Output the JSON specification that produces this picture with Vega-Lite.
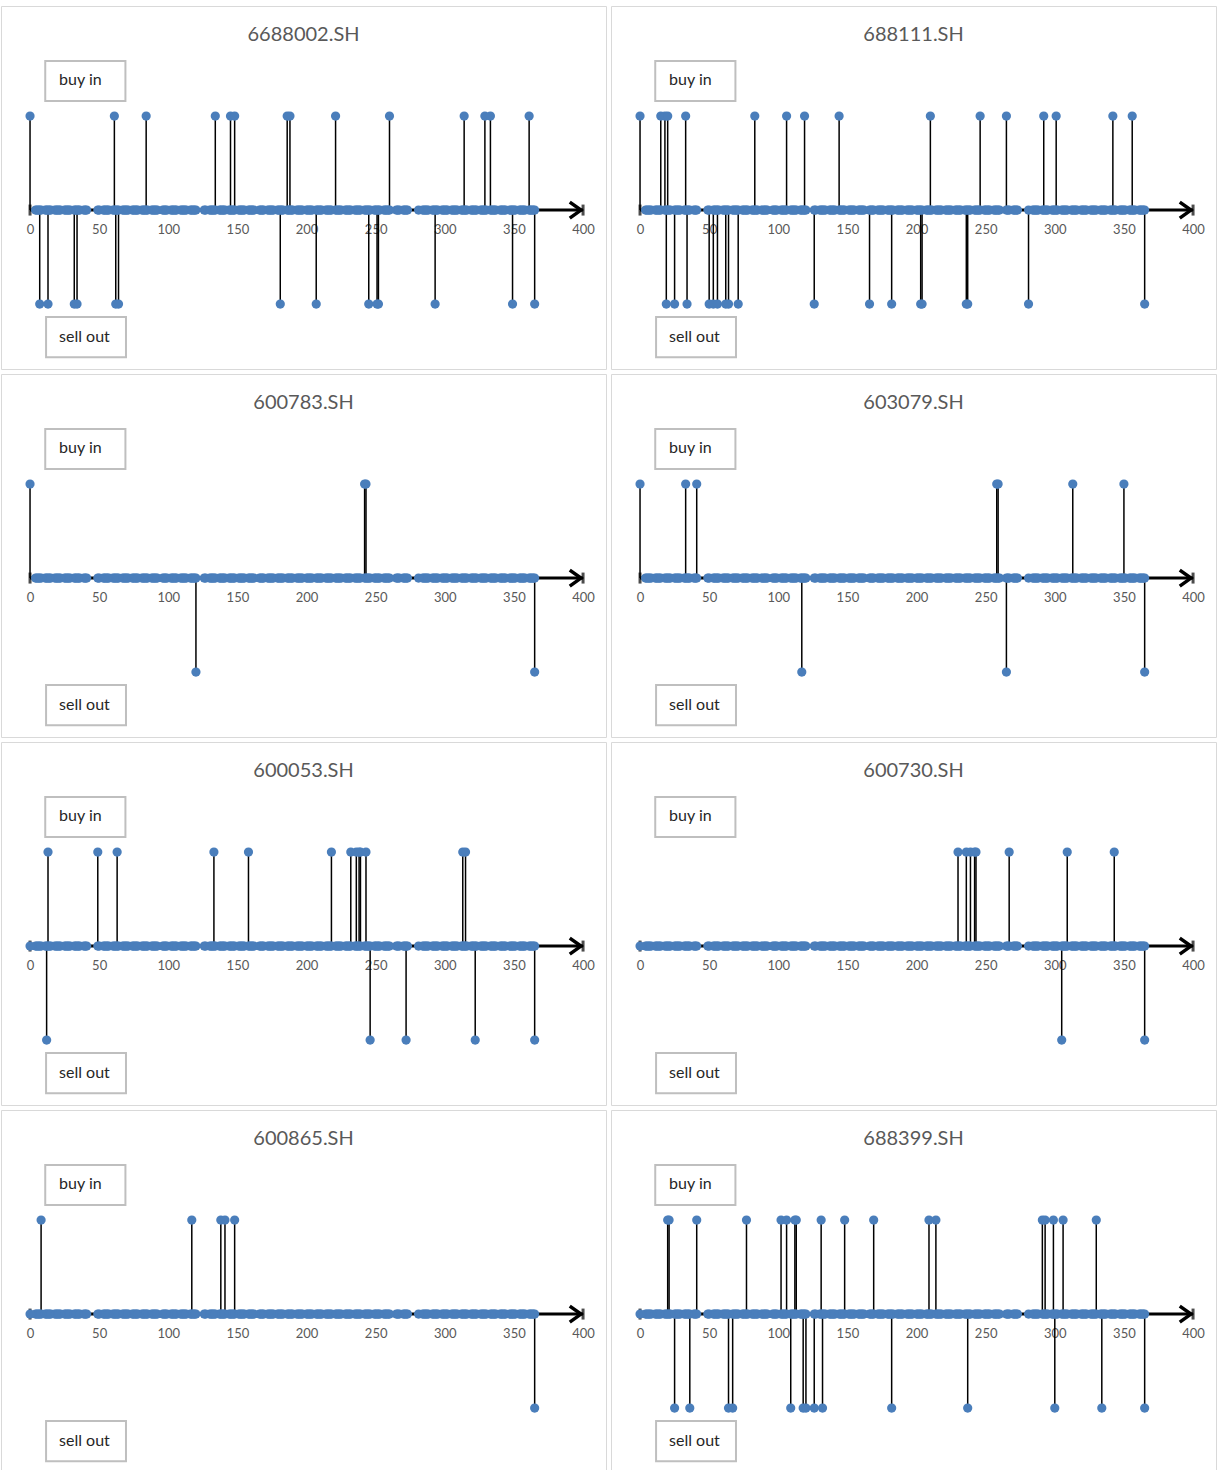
{
"$schema": "https://vega.github.io/schema/vega-lite/v6.json",
"padding": {"left": 0, "top": 5, "right": 0, "bottom": 0},
"background": "white",
"columns": 2,
"spacing": {"row": 3, "column": 3},
"datasets": {
"days": [{"day":4},{"day":5},{"day":6},{"day":7},{"day":8},{"day":11},{"day":12},{"day":13},{"day":14},{"day":15},{"day":18},{"day":19},{"day":20},{"day":21},{"day":22},{"day":25},{"day":26},{"day":27},{"day":28},{"day":29},
{"day":32},{"day":33},{"day":34},{"day":35},{"day":36},{"day":39},{"day":40},{"day":41},{"day":49},{"day":50},{"day":53},{"day":54},{"day":55},{"day":56},{"day":57},
{"day":60},{"day":61},{"day":62},{"day":63},{"day":64},{"day":67},{"day":68},{"day":69},{"day":70},{"day":71},{"day":74},{"day":75},{"day":76},{"day":77},{"day":78},{"day":81},{"day":82},{"day":83},{"day":84},{"day":85},{"day":88},{"day":89},{"day":90},
{"day":91},{"day":92},{"day":96},{"day":97},{"day":98},{"day":99},{"day":102},{"day":103},{"day":104},{"day":105},{"day":106},{"day":109},{"day":110},{"day":111},{"day":112},{"day":113},{"day":116},{"day":117},{"day":118},{"day":119},{"day":120},
{"day":126},{"day":127},{"day":130},{"day":131},{"day":132},{"day":133},{"day":134},{"day":137},{"day":138},{"day":139},{"day":140},{"day":141},{"day":144},{"day":145},{"day":146},{"day":147},{"day":148},{"day":151},
{"day":152},{"day":153},{"day":154},{"day":155},{"day":158},{"day":159},{"day":160},{"day":161},{"day":162},{"day":166},{"day":167},{"day":168},{"day":169},{"day":172},{"day":173},{"day":174},{"day":175},{"day":176},{"day":179},{"day":180},{"day":181},
{"day":182},{"day":183},{"day":186},{"day":187},{"day":188},{"day":189},{"day":190},{"day":193},{"day":194},{"day":195},{"day":196},{"day":197},{"day":200},{"day":201},{"day":202},{"day":203},{"day":204},{"day":207},{"day":208},{"day":209},{"day":210},{"day":211},
{"day":214},{"day":215},{"day":216},{"day":217},{"day":218},{"day":221},{"day":222},{"day":223},{"day":224},{"day":225},{"day":228},{"day":229},{"day":230},{"day":231},{"day":232},{"day":235},{"day":236},{"day":237},{"day":238},{"day":239},{"day":242},{"day":243},
{"day":244},{"day":245},{"day":246},{"day":249},{"day":250},{"day":251},{"day":252},{"day":253},{"day":256},{"day":257},{"day":258},{"day":259},{"day":260},{"day":265},{"day":266},{"day":267},{"day":270},{"day":271},{"day":272},{"day":273},
{"day":281},{"day":284},{"day":285},{"day":286},{"day":287},{"day":288},{"day":291},{"day":292},{"day":293},{"day":294},{"day":295},{"day":298},{"day":299},{"day":300},{"day":301},{"day":302},
{"day":305},{"day":306},{"day":307},{"day":308},{"day":309},{"day":312},{"day":313},{"day":314},{"day":315},{"day":316},{"day":319},{"day":320},{"day":321},{"day":322},{"day":323},{"day":326},{"day":327},{"day":328},{"day":329},{"day":330},{"day":333},{"day":334},
{"day":335},{"day":336},{"day":337},{"day":340},{"day":341},{"day":342},{"day":343},{"day":344},{"day":347},{"day":348},{"day":349},{"day":350},{"day":351},{"day":354},{"day":355},{"day":356},{"day":357},{"day":358},{"day":361},{"day":362},{"day":363},{"day":364},{"day":365}],
"trades": [
{"code":"6688002.SH","day":0,"signal":1},{"code":"6688002.SH","day":61,"signal":1},{"code":"6688002.SH","day":84,"signal":1},{"code":"6688002.SH","day":134,"signal":1},{"code":"6688002.SH","day":145,"signal":1},{"code":"6688002.SH","day":148,"signal":1},{"code":"6688002.SH","day":186,"signal":1},{"code":"6688002.SH","day":188,"signal":1},{"code":"6688002.SH","day":221,"signal":1},{"code":"6688002.SH","day":260,"signal":1},{"code":"6688002.SH","day":314,"signal":1},{"code":"6688002.SH","day":329,"signal":1},{"code":"6688002.SH","day":333,"signal":1},{"code":"6688002.SH","day":361,"signal":1},
{"code":"6688002.SH","day":7,"signal":-1},{"code":"6688002.SH","day":13,"signal":-1},{"code":"6688002.SH","day":32,"signal":-1},{"code":"6688002.SH","day":34,"signal":-1},{"code":"6688002.SH","day":62,"signal":-1},{"code":"6688002.SH","day":64,"signal":-1},{"code":"6688002.SH","day":181,"signal":-1},{"code":"6688002.SH","day":207,"signal":-1},{"code":"6688002.SH","day":245,"signal":-1},{"code":"6688002.SH","day":251,"signal":-1},{"code":"6688002.SH","day":252,"signal":-1},{"code":"6688002.SH","day":293,"signal":-1},{"code":"6688002.SH","day":349,"signal":-1},{"code":"6688002.SH","day":365,"signal":-1},
{"code":"688111.SH","day":0,"signal":1},{"code":"688111.SH","day":15,"signal":1},{"code":"688111.SH","day":18,"signal":1},{"code":"688111.SH","day":20,"signal":1},{"code":"688111.SH","day":33,"signal":1},{"code":"688111.SH","day":83,"signal":1},{"code":"688111.SH","day":106,"signal":1},{"code":"688111.SH","day":119,"signal":1},{"code":"688111.SH","day":144,"signal":1},{"code":"688111.SH","day":210,"signal":1},{"code":"688111.SH","day":246,"signal":1},{"code":"688111.SH","day":265,"signal":1},{"code":"688111.SH","day":292,"signal":1},{"code":"688111.SH","day":301,"signal":1},{"code":"688111.SH","day":342,"signal":1},{"code":"688111.SH","day":356,"signal":1},
{"code":"688111.SH","day":19,"signal":-1},{"code":"688111.SH","day":25,"signal":-1},{"code":"688111.SH","day":34,"signal":-1},{"code":"688111.SH","day":50,"signal":-1},{"code":"688111.SH","day":53,"signal":-1},{"code":"688111.SH","day":56,"signal":-1},{"code":"688111.SH","day":62,"signal":-1},{"code":"688111.SH","day":64,"signal":-1},{"code":"688111.SH","day":71,"signal":-1},{"code":"688111.SH","day":126,"signal":-1},{"code":"688111.SH","day":166,"signal":-1},{"code":"688111.SH","day":182,"signal":-1},{"code":"688111.SH","day":203,"signal":-1},{"code":"688111.SH","day":204,"signal":-1},{"code":"688111.SH","day":236,"signal":-1},{"code":"688111.SH","day":237,"signal":-1},{"code":"688111.SH","day":281,"signal":-1},{"code":"688111.SH","day":365,"signal":-1},
{"code":"600783.SH","day":0,"signal":1},{"code":"600783.SH","day":242,"signal":1},{"code":"600783.SH","day":243,"signal":1},{"code":"600783.SH","day":120,"signal":-1},{"code":"600783.SH","day":365,"signal":-1},
{"code":"603079.SH","day":0,"signal":1},{"code":"603079.SH","day":33,"signal":1},{"code":"603079.SH","day":41,"signal":1},{"code":"603079.SH","day":258,"signal":1},{"code":"603079.SH","day":259,"signal":1},{"code":"603079.SH","day":313,"signal":1},{"code":"603079.SH","day":350,"signal":1},{"code":"603079.SH","day":117,"signal":-1},{"code":"603079.SH","day":265,"signal":-1},{"code":"603079.SH","day":365,"signal":-1},
{"code":"600053.SH","day":0,"signal":0},{"code":"600053.SH","day":13,"signal":1},{"code":"600053.SH","day":49,"signal":1},{"code":"600053.SH","day":63,"signal":1},{"code":"600053.SH","day":133,"signal":1},{"code":"600053.SH","day":158,"signal":1},{"code":"600053.SH","day":218,"signal":1},{"code":"600053.SH","day":232,"signal":1},{"code":"600053.SH","day":236,"signal":1},{"code":"600053.SH","day":238,"signal":1},{"code":"600053.SH","day":239,"signal":1},{"code":"600053.SH","day":243,"signal":1},{"code":"600053.SH","day":313,"signal":1},{"code":"600053.SH","day":315,"signal":1},
{"code":"600053.SH","day":12,"signal":-1},{"code":"600053.SH","day":246,"signal":-1},{"code":"600053.SH","day":272,"signal":-1},{"code":"600053.SH","day":322,"signal":-1},{"code":"600053.SH","day":365,"signal":-1},
{"code":"600730.SH","day":0,"signal":0},{"code":"600730.SH","day":230,"signal":1},{"code":"600730.SH","day":236,"signal":1},{"code":"600730.SH","day":239,"signal":1},{"code":"600730.SH","day":242,"signal":1},{"code":"600730.SH","day":243,"signal":1},{"code":"600730.SH","day":267,"signal":1},{"code":"600730.SH","day":309,"signal":1},{"code":"600730.SH","day":343,"signal":1},{"code":"600730.SH","day":305,"signal":-1},{"code":"600730.SH","day":365,"signal":-1},
{"code":"600865.SH","day":0,"signal":0},{"code":"600865.SH","day":8,"signal":1},{"code":"600865.SH","day":117,"signal":1},{"code":"600865.SH","day":138,"signal":1},{"code":"600865.SH","day":141,"signal":1},{"code":"600865.SH","day":148,"signal":1},{"code":"600865.SH","day":365,"signal":-1},
{"code":"688399.SH","day":0,"signal":0},{"code":"688399.SH","day":20,"signal":1},{"code":"688399.SH","day":21,"signal":1},{"code":"688399.SH","day":41,"signal":1},{"code":"688399.SH","day":77,"signal":1},{"code":"688399.SH","day":102,"signal":1},{"code":"688399.SH","day":106,"signal":1},{"code":"688399.SH","day":112,"signal":1},{"code":"688399.SH","day":113,"signal":1},{"code":"688399.SH","day":131,"signal":1},{"code":"688399.SH","day":148,"signal":1},{"code":"688399.SH","day":169,"signal":1},{"code":"688399.SH","day":209,"signal":1},{"code":"688399.SH","day":214,"signal":1},{"code":"688399.SH","day":291,"signal":1},{"code":"688399.SH","day":293,"signal":1},{"code":"688399.SH","day":299,"signal":1},{"code":"688399.SH","day":306,"signal":1},{"code":"688399.SH","day":330,"signal":1},
{"code":"688399.SH","day":25,"signal":-1},{"code":"688399.SH","day":36,"signal":-1},{"code":"688399.SH","day":64,"signal":-1},{"code":"688399.SH","day":67,"signal":-1},{"code":"688399.SH","day":109,"signal":-1},{"code":"688399.SH","day":118,"signal":-1},{"code":"688399.SH","day":120,"signal":-1},{"code":"688399.SH","day":126,"signal":-1},{"code":"688399.SH","day":132,"signal":-1},{"code":"688399.SH","day":182,"signal":-1},{"code":"688399.SH","day":237,"signal":-1},{"code":"688399.SH","day":300,"signal":-1},{"code":"688399.SH","day":334,"signal":-1},{"code":"688399.SH","day":365,"signal":-1}
]
},
"concat": [
{"width":605,"height":363,"title":{"text":"6688002.SH"},"layer":[
{"data":{"values":[{}]},"mark":{"type":"rect","fill":"white","stroke":"#bfbfbf","strokeWidth":2},"encoding":{"x":{"datum":11,"type":"quantitative"},"x2":{"datum":69},"y":{"datum":1.16,"type":"quantitative"},"y2":{"datum":1.585}}},
{"data":{"values":[{}]},"mark":{"type":"text","text":"buy in","align":"left","fontSize":16,"font":"Lato","color":"#262626"},"encoding":{"x":{"datum":21,"type":"quantitative"},"y":{"datum":1.38,"type":"quantitative"}}},
{"data":{"values":[{}]},"mark":{"type":"rect","fill":"white","stroke":"#bfbfbf","strokeWidth":2},"encoding":{"x":{"datum":11.6,"type":"quantitative"},"x2":{"datum":69.4},"y":{"datum":-1.138,"type":"quantitative"},"y2":{"datum":-1.564}}},
{"data":{"values":[{}]},"mark":{"type":"text","text":"sell out","align":"left","fontSize":16,"font":"Lato","color":"#262626"},"encoding":{"x":{"datum":21,"type":"quantitative"},"y":{"datum":-1.35,"type":"quantitative"}}},
{"data":{"values":[{}]},"mark":{"type":"rule","color":"black","strokeWidth":3},"encoding":{"x":{"datum":0,"type":"quantitative"},"x2":{"datum":400},"y":{"datum":0,"type":"quantitative"}}},
{"data":{"values":[{}]},"mark":{"type":"tick","orient":"vertical","color":"black","size":11,"thickness":3},"encoding":{"x":{"datum":0,"type":"quantitative"},"y":{"datum":0,"type":"quantitative"}}},
{"data":{"values":[{}]},"mark":{"type":"tick","orient":"vertical","color":"black","size":11,"thickness":3},"encoding":{"x":{"datum":400,"type":"quantitative"},"y":{"datum":0,"type":"quantitative"}}},
{"data":{"values":[{}]},"mark":{"type":"point","shape":"M-1.4,-1L0,0L-1.4,1","filled":false,"stroke":"black","strokeWidth":3.5,"size":256,"opacity":1},"encoding":{"x":{"datum":398.5,"type":"quantitative"},"y":{"datum":0,"type":"quantitative"}}},
{"data":{"name":"trades"},"transform":[{"filter":"datum.code == '6688002.SH'"}],"mark":{"type":"rule","color":"black","strokeWidth":1.5},"encoding":{"x":{"field":"day","type":"quantitative"},"y":{"field":"signal","type":"quantitative"},"y2":{"datum":0}}},
{"data":{"name":"days"},"mark":{"type":"point","filled":true,"size":85,"color":"#4A7EBB","opacity":1},"encoding":{"x":{"field":"day","type":"quantitative","scale":{"domain":[-21,416.6],"nice":false,"zero":false},"axis":{"title":null,"values":[0,50,100,150,200,250,300,350,400],"domain":false,"ticks":false,"tickSize":0,"grid":false,"labelFont":"Lato","labelFontSize":13,"labelColor":"#595959","labelPadding":13,"labelFlush":false,"offset":-159}},"y":{"datum":0,"type":"quantitative","scale":{"domain":[-1.69,2.17],"nice":false,"zero":false}}}},
{"data":{"name":"trades"},"transform":[{"filter":"datum.code == '6688002.SH'"}],"mark":{"type":"point","filled":true,"size":85,"color":"#4A7EBB","opacity":1},"encoding":{"x":{"field":"day","type":"quantitative"},"y":{"field":"signal","type":"quantitative"}}}
]},
{"width":605,"height":363,"title":{"text":"688111.SH"},"layer":[
{"data":{"values":[{}]},"mark":{"type":"rect","fill":"white","stroke":"#bfbfbf","strokeWidth":2},"encoding":{"x":{"datum":11,"type":"quantitative"},"x2":{"datum":69},"y":{"datum":1.16,"type":"quantitative"},"y2":{"datum":1.585}}},
{"data":{"values":[{}]},"mark":{"type":"text","text":"buy in","align":"left","fontSize":16,"font":"Lato","color":"#262626"},"encoding":{"x":{"datum":21,"type":"quantitative"},"y":{"datum":1.38,"type":"quantitative"}}},
{"data":{"values":[{}]},"mark":{"type":"rect","fill":"white","stroke":"#bfbfbf","strokeWidth":2},"encoding":{"x":{"datum":11.6,"type":"quantitative"},"x2":{"datum":69.4},"y":{"datum":-1.138,"type":"quantitative"},"y2":{"datum":-1.564}}},
{"data":{"values":[{}]},"mark":{"type":"text","text":"sell out","align":"left","fontSize":16,"font":"Lato","color":"#262626"},"encoding":{"x":{"datum":21,"type":"quantitative"},"y":{"datum":-1.35,"type":"quantitative"}}},
{"data":{"values":[{}]},"mark":{"type":"rule","color":"black","strokeWidth":3},"encoding":{"x":{"datum":0,"type":"quantitative"},"x2":{"datum":400},"y":{"datum":0,"type":"quantitative"}}},
{"data":{"values":[{}]},"mark":{"type":"tick","orient":"vertical","color":"black","size":11,"thickness":3},"encoding":{"x":{"datum":0,"type":"quantitative"},"y":{"datum":0,"type":"quantitative"}}},
{"data":{"values":[{}]},"mark":{"type":"tick","orient":"vertical","color":"black","size":11,"thickness":3},"encoding":{"x":{"datum":400,"type":"quantitative"},"y":{"datum":0,"type":"quantitative"}}},
{"data":{"values":[{}]},"mark":{"type":"point","shape":"M-1.4,-1L0,0L-1.4,1","filled":false,"stroke":"black","strokeWidth":3.5,"size":256,"opacity":1},"encoding":{"x":{"datum":398.5,"type":"quantitative"},"y":{"datum":0,"type":"quantitative"}}},
{"data":{"name":"trades"},"transform":[{"filter":"datum.code == '688111.SH'"}],"mark":{"type":"rule","color":"black","strokeWidth":1.5},"encoding":{"x":{"field":"day","type":"quantitative"},"y":{"field":"signal","type":"quantitative"},"y2":{"datum":0}}},
{"data":{"name":"days"},"mark":{"type":"point","filled":true,"size":85,"color":"#4A7EBB","opacity":1},"encoding":{"x":{"field":"day","type":"quantitative","scale":{"domain":[-21,416.6],"nice":false,"zero":false},"axis":{"title":null,"values":[0,50,100,150,200,250,300,350,400],"domain":false,"ticks":false,"tickSize":0,"grid":false,"labelFont":"Lato","labelFontSize":13,"labelColor":"#595959","labelPadding":13,"labelFlush":false,"offset":-159}},"y":{"datum":0,"type":"quantitative","scale":{"domain":[-1.69,2.17],"nice":false,"zero":false}}}},
{"data":{"name":"trades"},"transform":[{"filter":"datum.code == '688111.SH'"}],"mark":{"type":"point","filled":true,"size":85,"color":"#4A7EBB","opacity":1},"encoding":{"x":{"field":"day","type":"quantitative"},"y":{"field":"signal","type":"quantitative"}}}
]},
{"width":605,"height":363,"title":{"text":"600783.SH"},"layer":[
{"data":{"values":[{}]},"mark":{"type":"rect","fill":"white","stroke":"#bfbfbf","strokeWidth":2},"encoding":{"x":{"datum":11,"type":"quantitative"},"x2":{"datum":69},"y":{"datum":1.16,"type":"quantitative"},"y2":{"datum":1.585}}},
{"data":{"values":[{}]},"mark":{"type":"text","text":"buy in","align":"left","fontSize":16,"font":"Lato","color":"#262626"},"encoding":{"x":{"datum":21,"type":"quantitative"},"y":{"datum":1.38,"type":"quantitative"}}},
{"data":{"values":[{}]},"mark":{"type":"rect","fill":"white","stroke":"#bfbfbf","strokeWidth":2},"encoding":{"x":{"datum":11.6,"type":"quantitative"},"x2":{"datum":69.4},"y":{"datum":-1.138,"type":"quantitative"},"y2":{"datum":-1.564}}},
{"data":{"values":[{}]},"mark":{"type":"text","text":"sell out","align":"left","fontSize":16,"font":"Lato","color":"#262626"},"encoding":{"x":{"datum":21,"type":"quantitative"},"y":{"datum":-1.35,"type":"quantitative"}}},
{"data":{"values":[{}]},"mark":{"type":"rule","color":"black","strokeWidth":3},"encoding":{"x":{"datum":0,"type":"quantitative"},"x2":{"datum":400},"y":{"datum":0,"type":"quantitative"}}},
{"data":{"values":[{}]},"mark":{"type":"tick","orient":"vertical","color":"black","size":11,"thickness":3},"encoding":{"x":{"datum":0,"type":"quantitative"},"y":{"datum":0,"type":"quantitative"}}},
{"data":{"values":[{}]},"mark":{"type":"tick","orient":"vertical","color":"black","size":11,"thickness":3},"encoding":{"x":{"datum":400,"type":"quantitative"},"y":{"datum":0,"type":"quantitative"}}},
{"data":{"values":[{}]},"mark":{"type":"point","shape":"M-1.4,-1L0,0L-1.4,1","filled":false,"stroke":"black","strokeWidth":3.5,"size":256,"opacity":1},"encoding":{"x":{"datum":398.5,"type":"quantitative"},"y":{"datum":0,"type":"quantitative"}}},
{"data":{"name":"trades"},"transform":[{"filter":"datum.code == '600783.SH'"}],"mark":{"type":"rule","color":"black","strokeWidth":1.5},"encoding":{"x":{"field":"day","type":"quantitative"},"y":{"field":"signal","type":"quantitative"},"y2":{"datum":0}}},
{"data":{"name":"days"},"mark":{"type":"point","filled":true,"size":85,"color":"#4A7EBB","opacity":1},"encoding":{"x":{"field":"day","type":"quantitative","scale":{"domain":[-21,416.6],"nice":false,"zero":false},"axis":{"title":null,"values":[0,50,100,150,200,250,300,350,400],"domain":false,"ticks":false,"tickSize":0,"grid":false,"labelFont":"Lato","labelFontSize":13,"labelColor":"#595959","labelPadding":13,"labelFlush":false,"offset":-159}},"y":{"datum":0,"type":"quantitative","scale":{"domain":[-1.69,2.17],"nice":false,"zero":false}}}},
{"data":{"name":"trades"},"transform":[{"filter":"datum.code == '600783.SH'"}],"mark":{"type":"point","filled":true,"size":85,"color":"#4A7EBB","opacity":1},"encoding":{"x":{"field":"day","type":"quantitative"},"y":{"field":"signal","type":"quantitative"}}}
]},
{"width":605,"height":363,"title":{"text":"603079.SH"},"layer":[
{"data":{"values":[{}]},"mark":{"type":"rect","fill":"white","stroke":"#bfbfbf","strokeWidth":2},"encoding":{"x":{"datum":11,"type":"quantitative"},"x2":{"datum":69},"y":{"datum":1.16,"type":"quantitative"},"y2":{"datum":1.585}}},
{"data":{"values":[{}]},"mark":{"type":"text","text":"buy in","align":"left","fontSize":16,"font":"Lato","color":"#262626"},"encoding":{"x":{"datum":21,"type":"quantitative"},"y":{"datum":1.38,"type":"quantitative"}}},
{"data":{"values":[{}]},"mark":{"type":"rect","fill":"white","stroke":"#bfbfbf","strokeWidth":2},"encoding":{"x":{"datum":11.6,"type":"quantitative"},"x2":{"datum":69.4},"y":{"datum":-1.138,"type":"quantitative"},"y2":{"datum":-1.564}}},
{"data":{"values":[{}]},"mark":{"type":"text","text":"sell out","align":"left","fontSize":16,"font":"Lato","color":"#262626"},"encoding":{"x":{"datum":21,"type":"quantitative"},"y":{"datum":-1.35,"type":"quantitative"}}},
{"data":{"values":[{}]},"mark":{"type":"rule","color":"black","strokeWidth":3},"encoding":{"x":{"datum":0,"type":"quantitative"},"x2":{"datum":400},"y":{"datum":0,"type":"quantitative"}}},
{"data":{"values":[{}]},"mark":{"type":"tick","orient":"vertical","color":"black","size":11,"thickness":3},"encoding":{"x":{"datum":0,"type":"quantitative"},"y":{"datum":0,"type":"quantitative"}}},
{"data":{"values":[{}]},"mark":{"type":"tick","orient":"vertical","color":"black","size":11,"thickness":3},"encoding":{"x":{"datum":400,"type":"quantitative"},"y":{"datum":0,"type":"quantitative"}}},
{"data":{"values":[{}]},"mark":{"type":"point","shape":"M-1.4,-1L0,0L-1.4,1","filled":false,"stroke":"black","strokeWidth":3.5,"size":256,"opacity":1},"encoding":{"x":{"datum":398.5,"type":"quantitative"},"y":{"datum":0,"type":"quantitative"}}},
{"data":{"name":"trades"},"transform":[{"filter":"datum.code == '603079.SH'"}],"mark":{"type":"rule","color":"black","strokeWidth":1.5},"encoding":{"x":{"field":"day","type":"quantitative"},"y":{"field":"signal","type":"quantitative"},"y2":{"datum":0}}},
{"data":{"name":"days"},"mark":{"type":"point","filled":true,"size":85,"color":"#4A7EBB","opacity":1},"encoding":{"x":{"field":"day","type":"quantitative","scale":{"domain":[-21,416.6],"nice":false,"zero":false},"axis":{"title":null,"values":[0,50,100,150,200,250,300,350,400],"domain":false,"ticks":false,"tickSize":0,"grid":false,"labelFont":"Lato","labelFontSize":13,"labelColor":"#595959","labelPadding":13,"labelFlush":false,"offset":-159}},"y":{"datum":0,"type":"quantitative","scale":{"domain":[-1.69,2.17],"nice":false,"zero":false}}}},
{"data":{"name":"trades"},"transform":[{"filter":"datum.code == '603079.SH'"}],"mark":{"type":"point","filled":true,"size":85,"color":"#4A7EBB","opacity":1},"encoding":{"x":{"field":"day","type":"quantitative"},"y":{"field":"signal","type":"quantitative"}}}
]},
{"width":605,"height":363,"title":{"text":"600053.SH"},"layer":[
{"data":{"values":[{}]},"mark":{"type":"rect","fill":"white","stroke":"#bfbfbf","strokeWidth":2},"encoding":{"x":{"datum":11,"type":"quantitative"},"x2":{"datum":69},"y":{"datum":1.16,"type":"quantitative"},"y2":{"datum":1.585}}},
{"data":{"values":[{}]},"mark":{"type":"text","text":"buy in","align":"left","fontSize":16,"font":"Lato","color":"#262626"},"encoding":{"x":{"datum":21,"type":"quantitative"},"y":{"datum":1.38,"type":"quantitative"}}},
{"data":{"values":[{}]},"mark":{"type":"rect","fill":"white","stroke":"#bfbfbf","strokeWidth":2},"encoding":{"x":{"datum":11.6,"type":"quantitative"},"x2":{"datum":69.4},"y":{"datum":-1.138,"type":"quantitative"},"y2":{"datum":-1.564}}},
{"data":{"values":[{}]},"mark":{"type":"text","text":"sell out","align":"left","fontSize":16,"font":"Lato","color":"#262626"},"encoding":{"x":{"datum":21,"type":"quantitative"},"y":{"datum":-1.35,"type":"quantitative"}}},
{"data":{"values":[{}]},"mark":{"type":"rule","color":"black","strokeWidth":3},"encoding":{"x":{"datum":0,"type":"quantitative"},"x2":{"datum":400},"y":{"datum":0,"type":"quantitative"}}},
{"data":{"values":[{}]},"mark":{"type":"tick","orient":"vertical","color":"black","size":11,"thickness":3},"encoding":{"x":{"datum":0,"type":"quantitative"},"y":{"datum":0,"type":"quantitative"}}},
{"data":{"values":[{}]},"mark":{"type":"tick","orient":"vertical","color":"black","size":11,"thickness":3},"encoding":{"x":{"datum":400,"type":"quantitative"},"y":{"datum":0,"type":"quantitative"}}},
{"data":{"values":[{}]},"mark":{"type":"point","shape":"M-1.4,-1L0,0L-1.4,1","filled":false,"stroke":"black","strokeWidth":3.5,"size":256,"opacity":1},"encoding":{"x":{"datum":398.5,"type":"quantitative"},"y":{"datum":0,"type":"quantitative"}}},
{"data":{"name":"trades"},"transform":[{"filter":"datum.code == '600053.SH'"}],"mark":{"type":"rule","color":"black","strokeWidth":1.5},"encoding":{"x":{"field":"day","type":"quantitative"},"y":{"field":"signal","type":"quantitative"},"y2":{"datum":0}}},
{"data":{"name":"days"},"mark":{"type":"point","filled":true,"size":85,"color":"#4A7EBB","opacity":1},"encoding":{"x":{"field":"day","type":"quantitative","scale":{"domain":[-21,416.6],"nice":false,"zero":false},"axis":{"title":null,"values":[0,50,100,150,200,250,300,350,400],"domain":false,"ticks":false,"tickSize":0,"grid":false,"labelFont":"Lato","labelFontSize":13,"labelColor":"#595959","labelPadding":13,"labelFlush":false,"offset":-159}},"y":{"datum":0,"type":"quantitative","scale":{"domain":[-1.69,2.17],"nice":false,"zero":false}}}},
{"data":{"name":"trades"},"transform":[{"filter":"datum.code == '600053.SH'"}],"mark":{"type":"point","filled":true,"size":85,"color":"#4A7EBB","opacity":1},"encoding":{"x":{"field":"day","type":"quantitative"},"y":{"field":"signal","type":"quantitative"}}}
]},
{"width":605,"height":363,"title":{"text":"600730.SH"},"layer":[
{"data":{"values":[{}]},"mark":{"type":"rect","fill":"white","stroke":"#bfbfbf","strokeWidth":2},"encoding":{"x":{"datum":11,"type":"quantitative"},"x2":{"datum":69},"y":{"datum":1.16,"type":"quantitative"},"y2":{"datum":1.585}}},
{"data":{"values":[{}]},"mark":{"type":"text","text":"buy in","align":"left","fontSize":16,"font":"Lato","color":"#262626"},"encoding":{"x":{"datum":21,"type":"quantitative"},"y":{"datum":1.38,"type":"quantitative"}}},
{"data":{"values":[{}]},"mark":{"type":"rect","fill":"white","stroke":"#bfbfbf","strokeWidth":2},"encoding":{"x":{"datum":11.6,"type":"quantitative"},"x2":{"datum":69.4},"y":{"datum":-1.138,"type":"quantitative"},"y2":{"datum":-1.564}}},
{"data":{"values":[{}]},"mark":{"type":"text","text":"sell out","align":"left","fontSize":16,"font":"Lato","color":"#262626"},"encoding":{"x":{"datum":21,"type":"quantitative"},"y":{"datum":-1.35,"type":"quantitative"}}},
{"data":{"values":[{}]},"mark":{"type":"rule","color":"black","strokeWidth":3},"encoding":{"x":{"datum":0,"type":"quantitative"},"x2":{"datum":400},"y":{"datum":0,"type":"quantitative"}}},
{"data":{"values":[{}]},"mark":{"type":"tick","orient":"vertical","color":"black","size":11,"thickness":3},"encoding":{"x":{"datum":0,"type":"quantitative"},"y":{"datum":0,"type":"quantitative"}}},
{"data":{"values":[{}]},"mark":{"type":"tick","orient":"vertical","color":"black","size":11,"thickness":3},"encoding":{"x":{"datum":400,"type":"quantitative"},"y":{"datum":0,"type":"quantitative"}}},
{"data":{"values":[{}]},"mark":{"type":"point","shape":"M-1.4,-1L0,0L-1.4,1","filled":false,"stroke":"black","strokeWidth":3.5,"size":256,"opacity":1},"encoding":{"x":{"datum":398.5,"type":"quantitative"},"y":{"datum":0,"type":"quantitative"}}},
{"data":{"name":"trades"},"transform":[{"filter":"datum.code == '600730.SH'"}],"mark":{"type":"rule","color":"black","strokeWidth":1.5},"encoding":{"x":{"field":"day","type":"quantitative"},"y":{"field":"signal","type":"quantitative"},"y2":{"datum":0}}},
{"data":{"name":"days"},"mark":{"type":"point","filled":true,"size":85,"color":"#4A7EBB","opacity":1},"encoding":{"x":{"field":"day","type":"quantitative","scale":{"domain":[-21,416.6],"nice":false,"zero":false},"axis":{"title":null,"values":[0,50,100,150,200,250,300,350,400],"domain":false,"ticks":false,"tickSize":0,"grid":false,"labelFont":"Lato","labelFontSize":13,"labelColor":"#595959","labelPadding":13,"labelFlush":false,"offset":-159}},"y":{"datum":0,"type":"quantitative","scale":{"domain":[-1.69,2.17],"nice":false,"zero":false}}}},
{"data":{"name":"trades"},"transform":[{"filter":"datum.code == '600730.SH'"}],"mark":{"type":"point","filled":true,"size":85,"color":"#4A7EBB","opacity":1},"encoding":{"x":{"field":"day","type":"quantitative"},"y":{"field":"signal","type":"quantitative"}}}
]},
{"width":605,"height":363,"title":{"text":"600865.SH"},"layer":[
{"data":{"values":[{}]},"mark":{"type":"rect","fill":"white","stroke":"#bfbfbf","strokeWidth":2},"encoding":{"x":{"datum":11,"type":"quantitative"},"x2":{"datum":69},"y":{"datum":1.16,"type":"quantitative"},"y2":{"datum":1.585}}},
{"data":{"values":[{}]},"mark":{"type":"text","text":"buy in","align":"left","fontSize":16,"font":"Lato","color":"#262626"},"encoding":{"x":{"datum":21,"type":"quantitative"},"y":{"datum":1.38,"type":"quantitative"}}},
{"data":{"values":[{}]},"mark":{"type":"rect","fill":"white","stroke":"#bfbfbf","strokeWidth":2},"encoding":{"x":{"datum":11.6,"type":"quantitative"},"x2":{"datum":69.4},"y":{"datum":-1.138,"type":"quantitative"},"y2":{"datum":-1.564}}},
{"data":{"values":[{}]},"mark":{"type":"text","text":"sell out","align":"left","fontSize":16,"font":"Lato","color":"#262626"},"encoding":{"x":{"datum":21,"type":"quantitative"},"y":{"datum":-1.35,"type":"quantitative"}}},
{"data":{"values":[{}]},"mark":{"type":"rule","color":"black","strokeWidth":3},"encoding":{"x":{"datum":0,"type":"quantitative"},"x2":{"datum":400},"y":{"datum":0,"type":"quantitative"}}},
{"data":{"values":[{}]},"mark":{"type":"tick","orient":"vertical","color":"black","size":11,"thickness":3},"encoding":{"x":{"datum":0,"type":"quantitative"},"y":{"datum":0,"type":"quantitative"}}},
{"data":{"values":[{}]},"mark":{"type":"tick","orient":"vertical","color":"black","size":11,"thickness":3},"encoding":{"x":{"datum":400,"type":"quantitative"},"y":{"datum":0,"type":"quantitative"}}},
{"data":{"values":[{}]},"mark":{"type":"point","shape":"M-1.4,-1L0,0L-1.4,1","filled":false,"stroke":"black","strokeWidth":3.5,"size":256,"opacity":1},"encoding":{"x":{"datum":398.5,"type":"quantitative"},"y":{"datum":0,"type":"quantitative"}}},
{"data":{"name":"trades"},"transform":[{"filter":"datum.code == '600865.SH'"}],"mark":{"type":"rule","color":"black","strokeWidth":1.5},"encoding":{"x":{"field":"day","type":"quantitative"},"y":{"field":"signal","type":"quantitative"},"y2":{"datum":0}}},
{"data":{"name":"days"},"mark":{"type":"point","filled":true,"size":85,"color":"#4A7EBB","opacity":1},"encoding":{"x":{"field":"day","type":"quantitative","scale":{"domain":[-21,416.6],"nice":false,"zero":false},"axis":{"title":null,"values":[0,50,100,150,200,250,300,350,400],"domain":false,"ticks":false,"tickSize":0,"grid":false,"labelFont":"Lato","labelFontSize":13,"labelColor":"#595959","labelPadding":13,"labelFlush":false,"offset":-159}},"y":{"datum":0,"type":"quantitative","scale":{"domain":[-1.69,2.17],"nice":false,"zero":false}}}},
{"data":{"name":"trades"},"transform":[{"filter":"datum.code == '600865.SH'"}],"mark":{"type":"point","filled":true,"size":85,"color":"#4A7EBB","opacity":1},"encoding":{"x":{"field":"day","type":"quantitative"},"y":{"field":"signal","type":"quantitative"}}}
]},
{"width":605,"height":363,"title":{"text":"688399.SH"},"layer":[
{"data":{"values":[{}]},"mark":{"type":"rect","fill":"white","stroke":"#bfbfbf","strokeWidth":2},"encoding":{"x":{"datum":11,"type":"quantitative"},"x2":{"datum":69},"y":{"datum":1.16,"type":"quantitative"},"y2":{"datum":1.585}}},
{"data":{"values":[{}]},"mark":{"type":"text","text":"buy in","align":"left","fontSize":16,"font":"Lato","color":"#262626"},"encoding":{"x":{"datum":21,"type":"quantitative"},"y":{"datum":1.38,"type":"quantitative"}}},
{"data":{"values":[{}]},"mark":{"type":"rect","fill":"white","stroke":"#bfbfbf","strokeWidth":2},"encoding":{"x":{"datum":11.6,"type":"quantitative"},"x2":{"datum":69.4},"y":{"datum":-1.138,"type":"quantitative"},"y2":{"datum":-1.564}}},
{"data":{"values":[{}]},"mark":{"type":"text","text":"sell out","align":"left","fontSize":16,"font":"Lato","color":"#262626"},"encoding":{"x":{"datum":21,"type":"quantitative"},"y":{"datum":-1.35,"type":"quantitative"}}},
{"data":{"values":[{}]},"mark":{"type":"rule","color":"black","strokeWidth":3},"encoding":{"x":{"datum":0,"type":"quantitative"},"x2":{"datum":400},"y":{"datum":0,"type":"quantitative"}}},
{"data":{"values":[{}]},"mark":{"type":"tick","orient":"vertical","color":"black","size":11,"thickness":3},"encoding":{"x":{"datum":0,"type":"quantitative"},"y":{"datum":0,"type":"quantitative"}}},
{"data":{"values":[{}]},"mark":{"type":"tick","orient":"vertical","color":"black","size":11,"thickness":3},"encoding":{"x":{"datum":400,"type":"quantitative"},"y":{"datum":0,"type":"quantitative"}}},
{"data":{"values":[{}]},"mark":{"type":"point","shape":"M-1.4,-1L0,0L-1.4,1","filled":false,"stroke":"black","strokeWidth":3.5,"size":256,"opacity":1},"encoding":{"x":{"datum":398.5,"type":"quantitative"},"y":{"datum":0,"type":"quantitative"}}},
{"data":{"name":"trades"},"transform":[{"filter":"datum.code == '688399.SH'"}],"mark":{"type":"rule","color":"black","strokeWidth":1.5},"encoding":{"x":{"field":"day","type":"quantitative"},"y":{"field":"signal","type":"quantitative"},"y2":{"datum":0}}},
{"data":{"name":"days"},"mark":{"type":"point","filled":true,"size":85,"color":"#4A7EBB","opacity":1},"encoding":{"x":{"field":"day","type":"quantitative","scale":{"domain":[-21,416.6],"nice":false,"zero":false},"axis":{"title":null,"values":[0,50,100,150,200,250,300,350,400],"domain":false,"ticks":false,"tickSize":0,"grid":false,"labelFont":"Lato","labelFontSize":13,"labelColor":"#595959","labelPadding":13,"labelFlush":false,"offset":-159}},"y":{"datum":0,"type":"quantitative","scale":{"domain":[-1.69,2.17],"nice":false,"zero":false}}}},
{"data":{"name":"trades"},"transform":[{"filter":"datum.code == '688399.SH'"}],"mark":{"type":"point","filled":true,"size":85,"color":"#4A7EBB","opacity":1},"encoding":{"x":{"field":"day","type":"quantitative"},"y":{"field":"signal","type":"quantitative"}}}
]}
],
"config": {
"view": {"stroke": "#d9d9d9", "strokeWidth": 1},
"axisY": {"disable": true},
"title": {"fontSize": 20, "font": "Lato", "color": "#595959", "fontWeight": "normal", "baseline": "middle", "offset": -39, "anchor": "middle"}
}
}
